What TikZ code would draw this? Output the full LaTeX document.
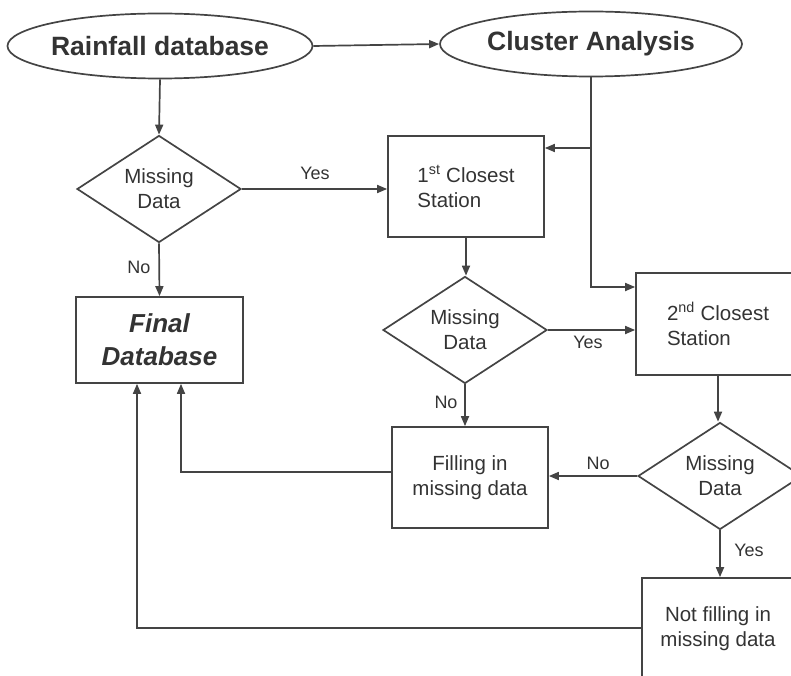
\documentclass[tikz,border=0pt]{standalone}
\usepackage{fontspec}
\setmainfont{Liberation Sans}
\usetikzlibrary{arrows.meta,shapes.geometric}
\definecolor{ink}{HTML}{444444}
\definecolor{txt}{HTML}{333333}
\tikzset{
  base/.style={draw=ink, line width=1.7pt, text=txt},
  oval/.style={base, ellipse, inner xsep=-12pt, inner ysep=0pt,
    font=\fontsize{26.5}{30}\selectfont\bfseries},
  decision/.style={base, diamond, aspect=1.53, inner sep=0pt,
    minimum width=164pt, minimum height=107pt, align=center,
    font=\fontsize{20.5}{25}\selectfont},
  stepbox/.style={base, rectangle, inner sep=0pt, align=center,
    font=\fontsize{20.5}{25}\selectfont},
  lbl/.style={text=txt, font=\fontsize{18}{21}\selectfont, inner sep=0pt},
  flow/.style={draw=ink, line width=1.7pt,
    -{Triangle[length=10pt,width=8pt]}},
}
\begin{document}
\begin{tikzpicture}[x=1pt,y=-1pt]
  \useasboundingbox (0,0) rectangle (791,676);
  \clip (0,0) rectangle (791,676);

  % start and clustering ovals
  \node[oval, minimum width=305pt, minimum height=65pt] (rain) at (160,46) {Rainfall database};
  \node[oval, minimum width=302pt, minimum height=65pt] (cluster) at (591,44) {Cluster Analysis};

  % decisions
  \node[decision] (d1) at (159,189) {Missing\\Data};
  \node[decision] (d2) at (465,330) {Missing\\Data};
  \node[decision] (d3) at (720,476) {Missing\\Data};

  % process boxes
  \node[stepbox, minimum width=167pt, minimum height=86pt,
        font=\fontsize{26}{33}\selectfont\bfseries\itshape] (final) at (159.5,340) {Final\\Database};
  \node[stepbox, align=left, minimum width=156pt, minimum height=101pt] (box1) at (466,186.5)
        {1\textsuperscript{st} Closest\\Station};
  \node[stepbox, align=left, minimum width=164pt, minimum height=102pt] (box2) at (718,324)
        {2\textsuperscript{nd} Closest\\Station};
  \node[stepbox, minimum width=156pt, minimum height=101pt] (fill) at (470,477.5)
        {Filling in\\missing data};
  \node[stepbox, minimum width=152pt, minimum height=102pt] (nofill) at (718,629)
        {Not filling in\\missing data};

  % junctions on the line leaving the cluster analysis
  \coordinate (j1) at (cluster.south |- 0,148);
  \coordinate (j2) at (cluster.south |- 0,287);
  \coordinate (f1) at ([xshift=21.5pt]final.south);
  \coordinate (f2) at ([xshift=-22.5pt]final.south);

  % connectors
  \draw[flow] (rain.east) -- (cluster.west);
  \draw[flow] (rain.south) -- (d1.north);
  \draw[flow] (d1.east) -- (d1.east -| box1.west);
  \draw[flow] (d1.south) -- (final.north);
  \draw[flow] (cluster.south) -- (j2) -- (j2 -| box2.west);
  \draw[flow] (j1) -- (j1 -| box1.east);
  \draw[flow] (box1.south) -- (box1.south |- d2.north);
  \draw[flow] (d2.east) -- (d2.east -| box2.west);
  \draw[flow] (d2.south) -- (d2.south |- fill.north);
  \draw[flow] (box2.south) -- (box2.south |- d3.north);
  \draw[flow] (d3.west) -- (d3.west -| fill.east);
  \draw[flow] (d3.south) -- (d3.south |- nofill.north);
  \draw[flow] ([yshift=5.5pt]fill.west) -| (f1);
  \draw[flow] ([yshift=1pt]nofill.west) -| (f2);

  % branch labels
  \node[lbl] (y1) at (315,173) {Yes};
  \node[lbl] (n1) at (139,267) {No};
  \node[lbl] (y2) at (588,342) {Yes};
  \node[lbl] (n2) at (446,402) {No};
  \node[lbl] (n3) at (598,463) {No};
  \node[lbl] (y3) at (749,550) {Yes};
\end{tikzpicture}
\end{document}
